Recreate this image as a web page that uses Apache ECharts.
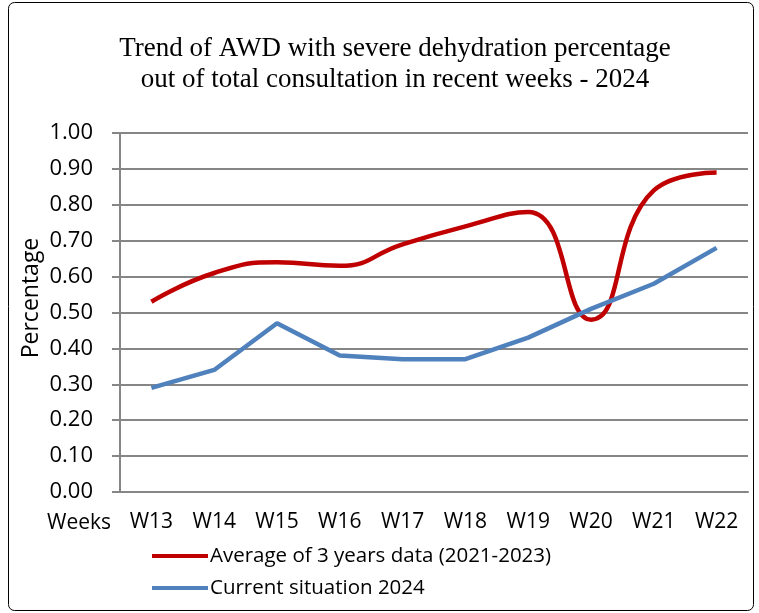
<!DOCTYPE html>
<html><head><meta charset="utf-8">
<script src="https://cdn.jsdelivr.net/npm/echarts@6/dist/echarts.min.js"></script>
<style>html,body{margin:0;padding:0;background:#fff}#c{width:759px;height:613px}</style>
</head><body><div id="c"></div>
<script>
const categories = ['W13','W14','W15','W16','W17','W18','W19','W20','W21','W22'];
const avg3Years = [0.53,0.61,0.64,0.63,0.69,0.74,0.78,0.48,0.84,0.89];
const current2024 = [0.29,0.34,0.47,0.38,0.37,0.37,0.43,0.51,0.58,0.68];
const seriesNames = ['Average of 3 years data (2021-2023)','Current situation 2024'];
const titleLines = ['Trend of AWD with severe dehydration percentage','out of total consultation in recent weeks - 2024'];

const sans = '"Open Sans", sans-serif';
const chart = echarts.init(document.getElementById('c'));
chart.setOption({
  animation:false,
  title:{text:titleLines.join('\n'),left:390,textAlign:'center',top:28,textStyle:{fontFamily:'"Liberation Serif", serif',fontSize:27,fontWeight:'normal',color:'#000',lineHeight:31}},
  graphic:[
    {type:'rect',shape:{x:8.5,y:2.5,width:745,height:608,r:6},style:{fill:null,stroke:'#000',lineWidth:1},silent:true},
    {type:'text',rotation:Math.PI/2,x:31,y:298,style:{text:'Percentage',font:'23px "Open Sans"',fill:'#000',textAlign:'center',textVerticalAlign:'middle'}}
  ],
  legend:{orient:'vertical',left:147,top:540,itemWidth:56,itemHeight:4,itemGap:10,icon:'rect',
    textStyle:{fontFamily:sans,fontSize:20.5,lineHeight:22,color:'#000',padding:[0,0,0,-3]},data:seriesNames},
  grid:{left:120,right:11,top:133,bottom:121},
  xAxis:{type:'category',data:categories,boundaryGap:true,
    name:'Weeks',nameLocation:'start',nameGap:9,nameTextStyle:{fontFamily:sans,fontSize:21,color:'#000',verticalAlign:'top',padding:[21,0,0,0]},
    axisLine:{lineStyle:{color:'#868686',width:2}},axisTick:{length:7,lineStyle:{color:'#868686',width:2}},
    axisLabel:{fontFamily:sans,fontSize:21,color:'#000',margin:20}},
  yAxis:{type:'value',min:0,max:1,interval:0.1,
    axisLine:{show:true,lineStyle:{color:'#868686',width:2}},axisTick:{show:true,length:8,lineStyle:{color:'#868686',width:2}},
    splitLine:{lineStyle:{color:'#868686',width:2}},
    axisLabel:{fontFamily:sans,fontSize:22,color:'#000',margin:27,formatter:v=>v.toFixed(2)}},
  series:[
    {name:seriesNames[0],type:'line',data:avg3Years,smooth:0.5,symbol:'none',lineStyle:{color:'#C00000',width:4.5},itemStyle:{color:'#C00000'}},
    {name:seriesNames[1],type:'line',data:current2024,smooth:false,symbol:'none',lineStyle:{color:'#4F81BD',width:4.5},itemStyle:{color:'#4F81BD'}}
  ]
});
</script></body></html>
